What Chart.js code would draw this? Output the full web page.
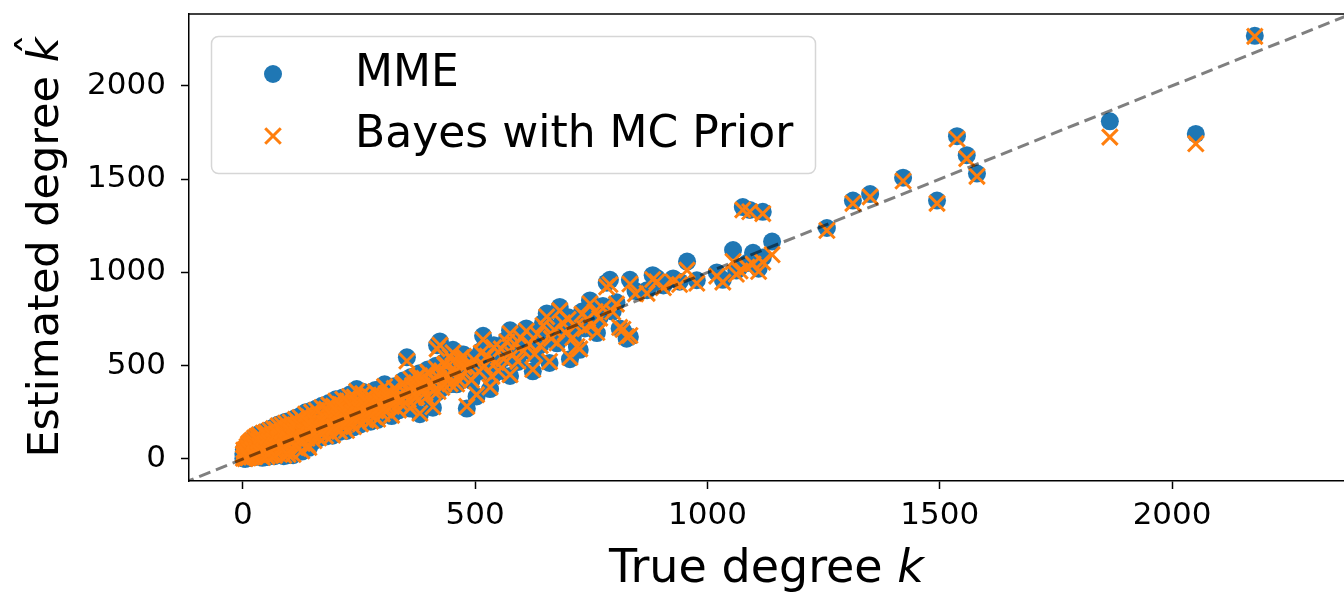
<!DOCTYPE html>
<html><head><meta charset="utf-8">
<script src="https://cdn.jsdelivr.net/npm/chart.js@4.4.0/dist/chart.umd.min.js"></script>
<style>html,body{margin:0;padding:0;background:#fff;}canvas{display:block;}</style>
</head><body>
<canvas id="c" width="1344" height="592"></canvas>
<script>
const trueDegree = [
 1,1,2,3,4,5,6,7,8,9, 10,11,12,14,15,16,18,19,20,22, 24,25,27,28,30,32,34,35,37,39,
 40,42,44,45,47,49,50,52,55,57, 58,60,62,64,66,68,70,72,74,76, 78,80,82,84,86,88,90,92,94,96, 98,100,
 102,104,106,108,110,113,115,118,120,123, 125,128,130,133,135,138,140,143,145,148,
 150,153,155,158,160,163,165,168,170,173, 175,178,180,183,185,188,190,193,195,198,
 200,203,205,208,210,213,215,218,220,223, 225,228,230,233,235,238,240,243,245,248,
 250,253,255,258,260,263,265,268,270,273, 275,278,280,283,285,288,290,293,295,298,
 300,305,310,315,320,325,330,335,340,345, 350,353,356,360,365,370,375,381,385,390,
 395,400,405,409,412,418,420,424,428,432, 436,440,446,452,456,460,465,470,475,482,
 487,492,497,503,508,513,517,520,526,532, 536,540,545,550,556,562,568,575,575,581,
 586,592,598,604,610,616,624,628,634,640, 646,654,660,664,670,676,682,688,694,700,
 704,710,716,719,725,730,736,742,747,752, 758,762,768,775,783,790,796,804,811,818,
 826,833,833,
 845,870,882,891,905,926,940,956,977,1020, 1033,1055,1062,1070,1076,1085,1091,1098,1110,1119,
 1119,1139,1257,1313,1350,1421,1494,1537,1558,1580, 1866,2051,2178,
 3,5,8,12,15,18,21,24,27,30, 33,36,40,43,46,50,53,56,60,63, 66,70,73,77,80,84,87,91,95,99,
 103,107,111,116,121,126,131,136,141,146, 151,156,161,166,171,176,181,186,191,196,
 201,206,211,216,221,226,231,236,241,246, 251,256,261,266,271,276,281,286,291,296,
 302,308,314,320,326,332,338,344,350,356, 362,368,374,380,386,392,398,404,410,416,
 422,428,434,440,446,452,458,464,470,476, 12,25,38,55,68,85,97,112,127,142
];
const mmeEstimate = [
 3,28,50,10,40,0,22,58,12,70, 35,4,85,48,18,95,60,8,105,32, 75,118,15,55,128,40,90,135,20,68,
 112,6,145,88,30,60,150,10,120,42, 160,80,20,140,170,50,105,165,28,185, 125,60,95,190,150,15,120,200,70,170, 40,140,
 205,90,180,20,160,220,110,55,190,230, 140,80,210,165,250,110,70,230,185,260,
 140,95,215,270,165,110,245,195,285,150, 225,120,275,190,300,140,250,125,290,215,
 320,170,255,145,300,220,330,175,270,150, 320,235,345,195,290,170,340,255,375,215,
 310,185,270,360,235,320,205,290,350,245, 200,330,275,225,370,310,210,260,345,300,
 240,400,280,350,230,310,380,260,330,420, 300,545,370,270,400,330,450,240,380,440,
 330,470,390,275,430,610,360,630,480,400, 520,440,560,585,470,400,520,450,560,270,
 490,420,540,335,470,580,660,500,560,375, 440,610,520,470,600,540,640,690,445,560,
 620,520,660,580,700,620,470,560,680,610, 730,780,515,650,700,620,815,740,680,760,
 535,650,720,600,585,790,700,760,850,720, 800,675,760,820,945,960,790,840,700,690,
 645,960,655,
 900,905,985,970,930,968,950,1058,958,1000, 960,1120,1010,1030,1350,1050,1335,1105,1020,1325,
 1080,1165,1238,1385,1420,1508,1385,1730,1628,1530, 1810,1742,2268,
 20,45,30,60,40,75,50,95,65,45, 100,70,50,110,80,60,125,95,40,130, 100,75,140,110,85,155,130,90,165,110,
 150,120,185,135,100,175,145,115,200,160, 125,205,180,140,240,195,155,255,210,170,
 270,225,185,280,240,200,300,255,215,310, 270,230,330,285,245,340,300,255,355,310,
 265,360,320,280,390,340,300,410,360,315, 440,380,330,460,400,350,480,420,360,500,
 440,380,520,460,400,540,480,420,560,500, 5,10,30,25,15,45,20,70,40,60
];
const bayesEstimate = [
 4,27,48,11,39,2,22,55,13,67, 35,6,81,47,19,91,59,10,100,33, 74,112,17,55,122,41,89,129,22,68,
 109,9,139,87,32,60,144,13,117,44, 154,80,23,136,163,52,104,159,31,178, 123,62,95,183,147,19,119,192,72,166, 43,138,
 198,91,175,24,157,212,110,58,185,222, 139,83,204,163,241,111,74,224,182,251,
 140,98,211,261,164,113,239,192,276,151, 221,123,268,189,290,142,245,128,283,212,
 310,171,251,148,293,218,320,177,266,153, 312,233,335,196,286,173,332,253,362,216,
 305,188,267,351,235,314,208,286,342,245, 203,324,273,227,360,305,213,259,338,297,
 242,388,280,344,234,307,372,262,326,408, 300,525,365,273,393,329,440,245,377,432,
 332,460,388,280,425,590,362,610,472,400, 510,438,548,570,466,402,512,449,550,282,
 486,423,532,345,470,568,640,498,552,385, 443,598,517,472,590,537,628,672,452,558,
 612,523,650,579,686,617,480,562,670,608, 715,762,522,646,692,622,795,730,677,748,
 545,650,714,603,590,776,698,752,832,718, 790,678,755,808,922,935,788,830,705,695,
 655,938,662,
 885,888,962,950,918,950,935,1012,942,980, 948,1058,990,1008,1335,1028,1325,1045,1005,1315,
 1055,1095,1225,1370,1405,1490,1370,1715,1610,1515, 1725,1690,2265,
 20,44,30,58,40,73,50,92,64,46, 97,70,51,107,79,61,121,94,43,126, 99,76,136,108,86,150,127,91,160,109,
 147,119,180,133,102,170,142,117,195,157, 127,200,176,142,233,191,157,248,206,172,
 262,221,187,272,236,202,291,251,217,301, 265,232,320,280,247,330,295,257,345,305,
 267,350,315,282,378,334,302,398,354,318, 427,374,333,446,393,353,466,413,363,485,
 433,383,505,452,403,525,472,423,544,492, 8,13,32,28,19,47,24,71,43,62
];
const xTickValues = [0, 500, 1000, 1500, 2000];
const yTickValues = [0, 500, 1000, 1500, 2000];
const diagonalRange = [-130, 2420];
const seriesNames = ['MME', 'Bayes with MC Prior'];
const xTitleParts = ['True degree ', 'k'];
const yTitleParts = ['Estimated degree ', 'k'];

const BLUE = '#1f77b4', ORANGE = '#ff7f0e';
const FAMILY = '"DejaVu Sans", sans-serif';

const framePlugin = {
  id: 'frame',
  afterDatasetsDraw(chart) {
    const ctx = chart.ctx, a = chart.chartArea;
    ctx.save();
    ctx.strokeStyle = '#000';
    ctx.lineWidth = 1.5;
    ctx.beginPath();
    ctx.moveTo(a.left, a.top);
    ctx.lineTo(a.right, a.top);
    ctx.stroke();
    ctx.restore();
  }
};

const titlePlugin = {
  id: 'titles',
  afterDraw(chart) {
    const ctx = chart.ctx, a = chart.chartArea;
    const xNormal = '46px ' + FAMILY, xItalic = 'italic 46px ' + FAMILY;
    const yNormal = '43px ' + FAMILY, yItalic = 'italic 43px ' + FAMILY;
    ctx.save();
    ctx.fillStyle = '#000';
    ctx.textAlign = 'left';
    ctx.textBaseline = 'alphabetic';
    ctx.font = xNormal; const w1 = ctx.measureText(xTitleParts[0]).width;
    ctx.font = xItalic; const w2 = ctx.measureText(xTitleParts[1]).width;
    const sx = (a.left + a.right) / 2 - (w1 + w2) / 2;
    ctx.font = xNormal; ctx.fillText(xTitleParts[0], sx, 582);
    ctx.font = xItalic; ctx.fillText(xTitleParts[1], sx + w1, 582);

    ctx.translate(58, (a.top + a.bottom) / 2);
    ctx.rotate(-Math.PI / 2);
    ctx.font = yNormal; const v1 = ctx.measureText(yTitleParts[0]).width;
    ctx.font = yItalic; const v2 = ctx.measureText(yTitleParts[1]).width;
    const sy = -(v1 + v2) / 2;
    ctx.font = yNormal; ctx.fillText(yTitleParts[0], sy, 0);
    ctx.font = yItalic; ctx.fillText(yTitleParts[1], sy + v1, 0);
    ctx.font = yNormal;
    ctx.textAlign = 'center';
    ctx.fillText('\u02C6', sy + v1 + v2 * 0.72, -10);
    ctx.restore();
  }
};

const legendPlugin = {
  id: 'boxLegend',
  afterDraw(chart) {
    const ctx = chart.ctx;
    ctx.save();
    ctx.beginPath();
    ctx.roundRect(211.5, 36.5, 604, 137, 7);
    ctx.fillStyle = 'rgba(255,255,255,0.8)';
    ctx.fill();
    ctx.strokeStyle = '#d6d6d6';
    ctx.lineWidth = 1.5;
    ctx.stroke();
    Chart.helpers.drawPoint(ctx, {pointStyle: 'circle', radius: 9, rotation: 0, borderWidth: 0}, 273, 74);
    ctx.fillStyle = BLUE; ctx.fill();
    ctx.strokeStyle = ORANGE; ctx.lineWidth = 3;
    Chart.helpers.drawPoint(ctx, {pointStyle: 'crossRot', radius: 11, rotation: 0, borderWidth: 3}, 273, 136);
    ctx.fillStyle = '#000';
    ctx.font = '44px ' + FAMILY;
    ctx.textAlign = 'left';
    ctx.textBaseline = 'alphabetic';
    ctx.fillText(seriesNames[0], 355, 86);
    ctx.fillText(seriesNames[1], 355, 147);
    ctx.restore();
  }
};

const axisCommon = {
  type: 'linear',
  grid: {drawOnChartArea: false, drawTicks: true, tickLength: 8, tickWidth: 1.5, tickColor: '#000', color: '#000'},
  border: {display: true, color: '#000', width: 1.5},
  ticks: {color: '#000', font: {family: FAMILY, size: 31}, autoSkip: false, maxRotation: 0,
          callback: v => String(v)}
};

new Chart(document.getElementById('c'), {
  type: 'scatter',
  data: {
    datasets: [
      {
        type: 'line',
        label: 'y = x',
        data: diagonalRange.map(v => ({x: v, y: v})),
        borderColor: 'rgba(0,0,0,0.5)',
        borderWidth: 3,
        borderDash: [12, 6],
        pointRadius: 0,
        fill: false,
        order: 0
      },
      {
        label: seriesNames[1],
        data: trueDegree.map((x, i) => ({x: x, y: bayesEstimate[i]})),
        pointStyle: 'crossRot',
        pointRadius: 11,
        pointBorderWidth: 3,
        borderColor: ORANGE,
        backgroundColor: ORANGE,
        order: 1
      },
      {
        label: seriesNames[0],
        data: trueDegree.map((x, i) => ({x: x, y: mmeEstimate[i]})),
        pointStyle: 'circle',
        pointRadius: 9,
        pointBorderWidth: 0,
        borderColor: BLUE,
        backgroundColor: BLUE,
        order: 2
      }
    ]
  },
  options: {
    responsive: false,
    animation: false,
    events: [],
    layout: {autoPadding: false, padding: {top: 14, right: 0, left: 0, bottom: 0}},
    plugins: {legend: {display: false}, tooltip: {enabled: false}},
    scales: {
      x: Object.assign({}, axisCommon, {
        min: -116, max: 2370,
        ticks: Object.assign({}, axisCommon.ticks, {padding: 8}),
        afterBuildTicks: s => { s.ticks = xTickValues.map(v => ({value: v})); },
        afterFit: s => { s.height = 111; s.paddingLeft = 0; s.paddingRight = 0; }
      }),
      y: Object.assign({}, axisCommon, {
        min: -118, max: 2385,
        ticks: Object.assign({}, axisCommon.ticks, {padding: 15}),
        afterBuildTicks: s => { s.ticks = yTickValues.map(v => ({value: v})); },
        afterFit: s => { s.width = 189; s.paddingTop = 0; s.paddingBottom = 0; }
      })
    }
  },
  plugins: [framePlugin, titlePlugin, legendPlugin]
});
</script>
</body></html>
